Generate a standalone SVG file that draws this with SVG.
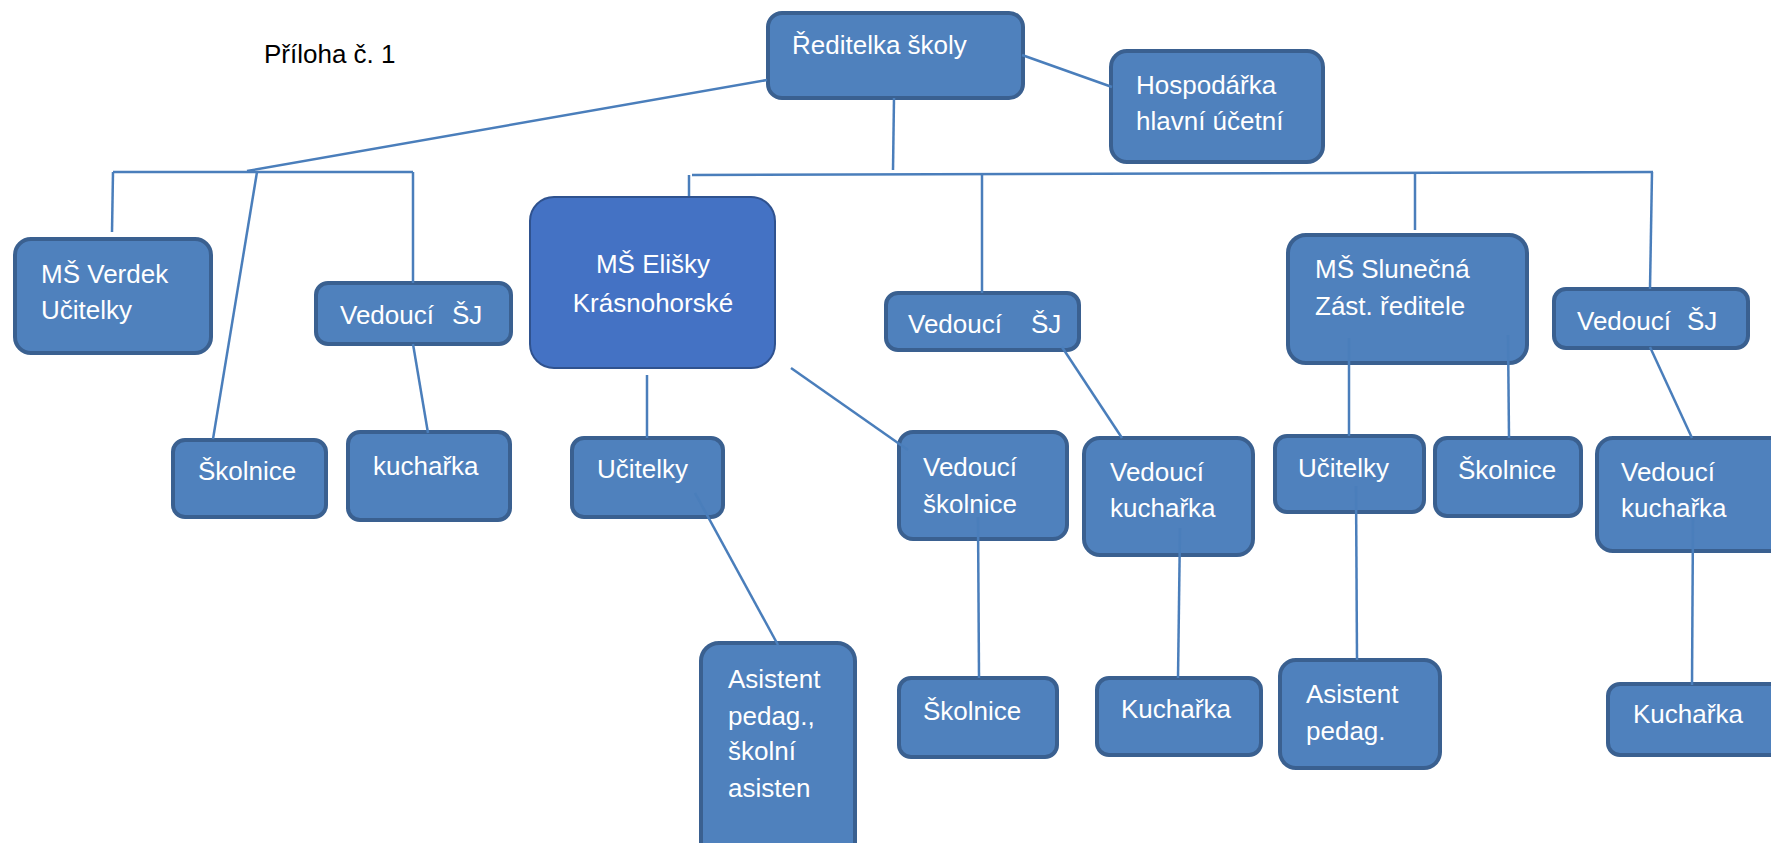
<svg xmlns="http://www.w3.org/2000/svg" width="1771" height="843" viewBox="0 0 1771 843">
<style>
.box{fill:#4f81bd;stroke:#3a6090;stroke-width:4}
.boxb{fill:#4472c4;stroke:#2f528f;stroke-width:2}
.t{font-family:"Liberation Sans",Arial,sans-serif;font-size:26px;fill:#ffffff}
.cap{font-family:"Liberation Sans",Arial,sans-serif;font-size:26px;fill:#000000}
.c line{stroke:#4a7ebb;stroke-width:2.5;fill:none}
</style>
<rect width="1771" height="843" fill="#ffffff"/>
<text class="cap" x="264" y="63">Příloha č. 1</text>

<g id="reditelka"><rect class="box" x="768" y="13" width="255" height="85" rx="14"/><text class="t" x="792" y="54">Ředitelka školy</text></g>
<g id="hospodarka"><rect class="box" x="1111" y="51" width="212" height="111" rx="16"/><text class="t" x="1136" y="94">Hospodářka</text><text class="t" x="1136" y="130">hlavní účetní</text></g>
<g id="verdek"><rect class="box" x="15" y="239" width="196" height="114" rx="16"/><text class="t" x="41" y="283">MŠ Verdek</text><text class="t" x="41" y="319">Učitelky</text></g>
<g id="vsj1"><rect class="box" x="316" y="283" width="195" height="61" rx="12"/><text class="t" x="340" y="324">Vedoucí <tspan x="452">ŠJ</tspan></text></g>
<g id="eliska"><rect class="boxb" x="530" y="197" width="245" height="171" rx="24"/><text class="t" x="653" y="273" text-anchor="middle">MŠ Elišky</text><text class="t" x="653" y="312" text-anchor="middle">Krásnohorské</text></g>
<g id="vsj2"><rect class="box" x="886" y="293" width="193" height="57" rx="12"/><text class="t" x="908" y="333">Vedoucí <tspan x="1031">ŠJ</tspan></text></g>
<g id="slunecna"><rect class="box" x="1288" y="235" width="239" height="128" rx="18"/><text class="t" x="1315" y="278">MŠ Slunečná</text><text class="t" x="1315" y="315">Zást. ředitele</text></g>
<g id="vsj3"><rect class="box" x="1554" y="289" width="194" height="59" rx="12"/><text class="t" x="1577" y="330">Vedoucí <tspan x="1687">ŠJ</tspan></text></g>

<g id="skolnice1"><rect class="box" x="173" y="440" width="153" height="77" rx="12"/><text class="t" x="198" y="480">Školnice</text></g>
<g id="kucharka1"><rect class="box" x="348" y="432" width="162" height="88" rx="12"/><text class="t" x="373" y="475">kuchařka</text></g>
<g id="ucitelky1"><rect class="box" x="572" y="438" width="151" height="79" rx="12"/><text class="t" x="597" y="478">Učitelky</text></g>
<g id="asistent1"><rect class="box" x="701" y="643" width="154" height="220" rx="18"/><text class="t" x="728" y="688">Asistent</text><text class="t" x="728" y="725">pedag.,</text><text class="t" x="728" y="760">školní</text><text class="t" x="728" y="797">asisten</text></g>
<g id="vedskolnice"><rect class="box" x="899" y="432" width="168" height="107" rx="14"/><text class="t" x="923" y="476">Vedoucí</text><text class="t" x="923" y="513">školnice</text></g>
<g id="vedkucharka1"><rect class="box" x="1084" y="438" width="169" height="117" rx="16"/><text class="t" x="1110" y="481">Vedoucí</text><text class="t" x="1110" y="517">kuchařka</text></g>
<g id="ucitelky2"><rect class="box" x="1275" y="436" width="149" height="76" rx="12"/><text class="t" x="1298" y="477">Učitelky</text></g>
<g id="skolnice2"><rect class="box" x="1435" y="438" width="146" height="78" rx="12"/><text class="t" x="1458" y="479">Školnice</text></g>
<g id="vedkucharka2"><rect class="box" x="1597" y="438" width="200" height="113" rx="16"/><text class="t" x="1621" y="481">Vedoucí</text><text class="t" x="1621" y="517">kuchařka</text></g>
<g id="skolnice3"><rect class="box" x="899" y="678" width="158" height="79" rx="12"/><text class="t" x="923" y="720">Školnice</text></g>
<g id="kucharka2"><rect class="box" x="1097" y="678" width="164" height="77" rx="12"/><text class="t" x="1121" y="718">Kuchařka</text></g>
<g id="asistent2"><rect class="box" x="1280" y="660" width="160" height="108" rx="16"/><text class="t" x="1306" y="703">Asistent</text><text class="t" x="1306" y="740">pedag.</text></g>
<g id="kucharka3"><rect class="box" x="1608" y="684" width="190" height="71" rx="12"/><text class="t" x="1633" y="723">Kuchařka</text></g>

<g id="connectors" class="c">
<line x1="767" y1="80" x2="247" y2="171"/>
<line x1="113" y1="172" x2="413" y2="172"/>
<line x1="113" y1="172" x2="112" y2="232"/>
<line x1="257" y1="172" x2="213" y2="439"/>
<line x1="413" y1="172" x2="413" y2="283"/>
<line x1="413" y1="344" x2="428" y2="433"/>
<line x1="1022" y1="55" x2="1112" y2="87"/>
<line x1="894" y1="98" x2="893" y2="170"/>
<line x1="692" y1="175" x2="1653" y2="172"/>
<line x1="689" y1="175" x2="689" y2="196"/>
<line x1="982" y1="174" x2="982" y2="293"/>
<line x1="1415" y1="173" x2="1415" y2="230"/>
<line x1="1652" y1="172" x2="1650" y2="289"/>
<line x1="647" y1="375" x2="647" y2="438"/>
<line x1="791" y1="368" x2="908" y2="450"/>
<line x1="695" y1="493" x2="778" y2="645"/>
<line x1="1062" y1="347" x2="1122" y2="438"/>
<line x1="1349" y1="338" x2="1349" y2="436"/>
<line x1="1508" y1="335" x2="1509" y2="438"/>
<line x1="1650" y1="347" x2="1692" y2="438"/>
<line x1="978" y1="517" x2="979" y2="678"/>
<line x1="1180" y1="528" x2="1178" y2="678"/>
<line x1="1356" y1="486" x2="1357" y2="660"/>
<line x1="1693" y1="517" x2="1692" y2="685"/>
</g>
</svg>
